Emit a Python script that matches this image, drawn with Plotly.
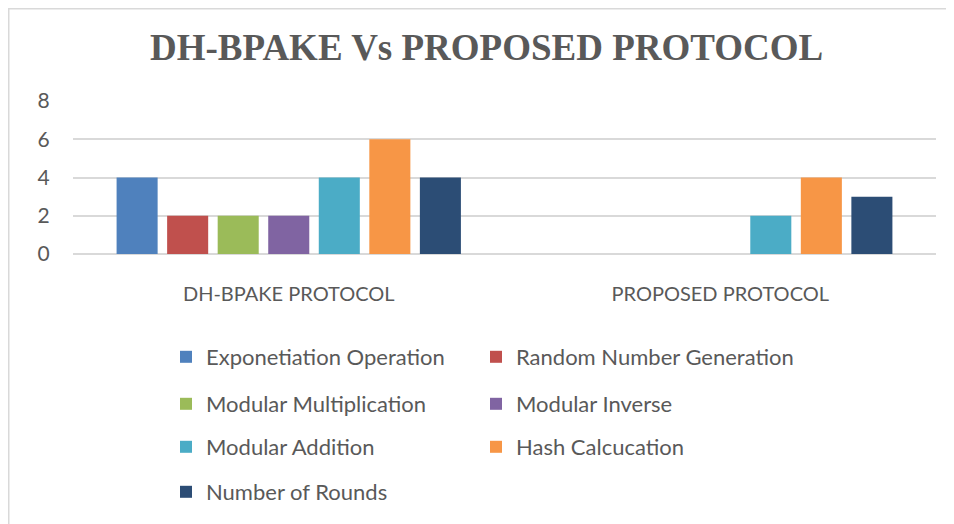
import plotly.graph_objects as go

categories = ["DH-BPAKE PROTOCOL", "PROPOSED PROTOCOL"]
series_names = ["Exponetiation Operation", "Random Number Generation", "Modular Multiplication",
                "Modular Inverse", "Modular Addition", "Hash Calcucation", "Number of Rounds"]
exponentiation = [4, 0]
random_number = [2, 0]
modular_mult = [2, 0]
modular_inverse = [2, 0]
modular_addition = [4, 2]
hash_calc = [6, 4]
rounds = [4, 3]
y_ticks = [0, 2, 4, 6, 8]

values = [exponentiation, random_number, modular_mult, modular_inverse, modular_addition, hash_calc, rounds]
colors = ["#4F81BD", "#C0504D", "#9BBB59", "#8064A2", "#4BACC6", "#F79646", "#2C4D75"]

W, H = 946, 516
ml, mr, mt, mb = 65, 18, 93, 270
pw, ph = W - ml - mr, H - mt - mb


def px_x(p):
    return (p - ml) / pw


def px_y(p):
    return (H - mb - p) / ph


fig = go.Figure()
legend_ids = ["legend"] + ["legend%d" % (i + 1) for i in range(1, len(series_names))]
for name, vals, c, lg in zip(series_names, values, colors, legend_ids):
    fig.add_trace(go.Bar(x=categories, y=vals, name=name, legend=lg,
                         marker=dict(color=c, line=dict(width=0))))

row_centers = [349, 396, 439, 484]
col_lefts = [158, 468]
legend_common = dict(orientation="h", xanchor="left", yanchor="middle",
                     font=dict(size=22, color="#595959", family="Lato"),
                     bgcolor="rgba(0,0,0,0)", borderwidth=0, itemwidth=30)
legends = {}
for i, lg in enumerate(legend_ids):
    legends[lg] = dict(x=px_x(col_lefts[i % 2]), y=px_y(row_centers[i // 2]), **legend_common)

fig.update_layout(
    width=W, height=H,
    margin=dict(l=ml, r=mr, t=mt, b=mb),
    paper_bgcolor="white", plot_bgcolor="white",
    barmode="group", bargap=0.18, bargroupgap=0.188,
    title=dict(text="<b>DH-BPAKE Vs PROPOSED PROTOCOL</b>", x=0.506, xanchor="center",
               y=1 - 39 / H, yanchor="middle",
               font=dict(family="Liberation Serif", size=37, color="#595959")),
    font=dict(family="Lato", color="#595959"),
    xaxis=dict(showgrid=False, showline=False, ticks="outside", ticklen=22,
               tickcolor="rgba(0,0,0,0)", tickfont=dict(size=20, color="#595959")),
    yaxis=dict(range=[0, 8], tickvals=y_ticks, showgrid=True, gridcolor="#D9D9D9", gridwidth=1.5,
               zeroline=True, zerolinecolor="#D9D9D9", zerolinewidth=1.5, showline=False,
               ticks="outside", ticklen=18, tickcolor="rgba(0,0,0,0)",
               tickfont=dict(size=21, color="#595959")),
    showlegend=True,
    **legends,
)

fig.add_shape(type="rect", xref="paper", yref="paper",
              x0=px_x(0.75), x1=px_x(945), y0=px_y(530), y1=px_y(0.75),
              line=dict(color="#D9D9D9", width=1.5), fillcolor="rgba(0,0,0,0)", layer="below")

fig.write_html("out.html")
